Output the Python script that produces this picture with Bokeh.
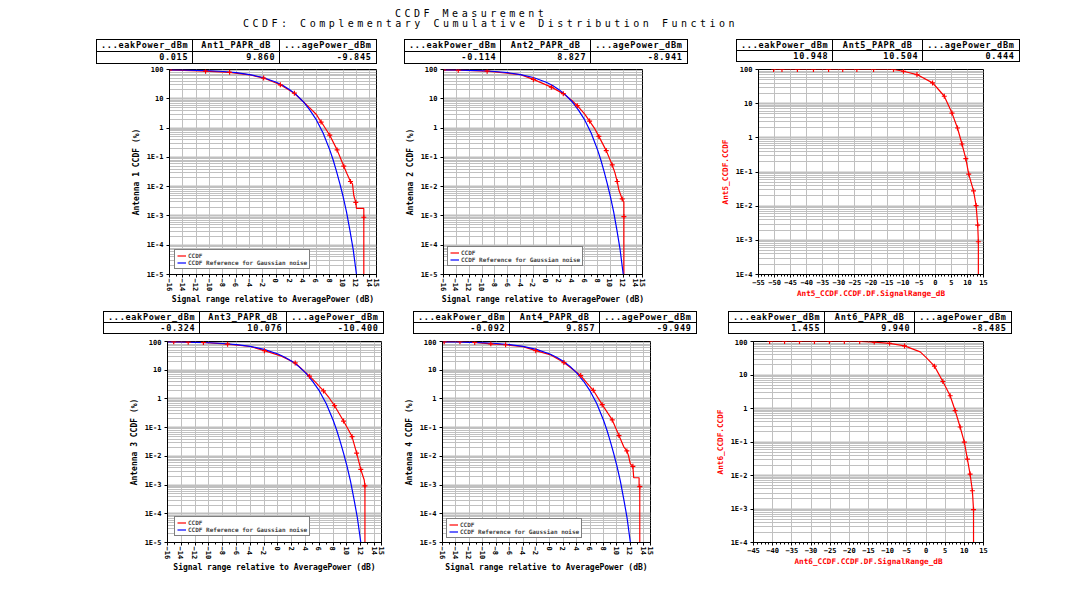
import math
from bokeh.plotting import figure
from bokeh.models import FixedTicker, Legend, LegendItem, Div, Spacer, Range1d
from bokeh.layouts import column, row
from bokeh.embed import file_html
from bokeh.resources import INLINE

# ---------------- data ----------------
title_1 = "CCDF Measurement"
title_2 = "CCDF: Complementary Cumulative Distribution Function"

table_headers = [
    ["...eakPower_dBm", "Ant1_PAPR_dB", "...agePower_dBm"],
    ["...eakPower_dBm", "Ant2_PAPR_dB", "...agePower_dBm"],
    ["...eakPower_dBm", "Ant5_PAPR_dB", "...agePower_dBm"],
    ["...eakPower_dBm", "Ant3_PAPR_dB", "...agePower_dBm"],
    ["...eakPower_dBm", "Ant4_PAPR_dB", "...agePower_dBm"],
    ["...eakPower_dBm", "Ant6_PAPR_dB", "...agePower_dBm"],
]
table_values = [
    ["0.015", "9.860", "-9.845"],
    ["-0.114", "8.827", "-8.941"],
    ["10.948", "10.504", "0.444"],
    ["-0.324", "10.076", "-10.400"],
    ["-0.092", "9.857", "-9.949"],
    ["1.455", "9.940", "-8.485"],
]

# Gaussian reference curve (same in the four antenna plots)
ref_db = [-16, -14, -12, -10, -8, -6, -4, -2, 0, 1, 2, 3, 4, 5, 6, 7, 8, 8.5, 9, 9.5, 10, 10.5, 11, 11.5, 12.0]
ref_pct = [97.5, 96.1, 93.9, 90.5, 85.3, 77.8, 67.2, 53.3, 36.8, 28.4, 20.5, 13.6, 8.1, 4.2, 1.9, 0.68, 0.18,
           0.083, 0.034, 0.013, 0.0046, 0.0014, 0.00034, 0.000074, 0.00001]

ant1_db = [-16, -10.6, -7.0, -4.0, -1.9, 0.6, 2.7, 4.0, 5.0, 6.0, 6.7, 7.0, 8.0, 9.1, 10.1, 10.6, 11.1, 11.4,
           11.6, 11.9, 12.0, 12.2, 13.1, 13.1, 13.1]
ant1_pct = [97.0, 88.0, 80.0, 66.0, 51.0, 30.0, 15.5, 8.1, 4.9, 2.9, 1.6, 1.3, 0.57, 0.18, 0.05, 0.027, 0.015,
            0.0125, 0.005, 0.0029, 0.0018, 0.0018, 0.0018, 0.0009, 0.00001]
ant1_mk = [0, 1, 2, 4, 5, 6, 10, 12, 13, 14, 16, 19, 23]

ant2_db = [-16, -13.7, -9.2, -4.0, -2.0, 0.8, 2.66, 4.0, 4.84, 6.0, 6.76, 7.5, 8.2, 9.35, 10.28, 10.7, 11.06,
           11.3, 11.7, 11.84, 12.1, 12.1, 12.1]
ant2_pct = [97.5, 94.5, 88.0, 67.0, 46.0, 25.0, 15.0, 8.8, 5.8, 3.0, 1.73, 1.0, 0.52, 0.17, 0.055, 0.03, 0.015,
            0.008, 0.0045, 0.0038, 0.003, 0.00095, 0.00001]
ant2_mk = [0, 1, 2, 4, 5, 6, 8, 10, 12, 13, 14, 16, 19, 21]

ant3_db = [-16, -15.1, -13.0, -10.8, -7.3, -4.0, -1.96, 0.5, 2.5, 4.58, 5.5, 6.6, 7.4, 8.2, 9.5, 10.2, 10.73,
           11.4, 12.0, 12.5, 12.6, 12.6]
ant3_pct = [98.0, 99.0, 95.0, 92.4, 81.0, 67.0, 48.0, 31.0, 17.9, 6.2, 3.7, 1.9, 1.1, 0.58, 0.17, 0.085, 0.049,
            0.013, 0.0035, 0.0015, 0.00094, 0.00001]
ant3_mk = [1, 2, 3, 4, 6, 8, 9, 11, 13, 14, 16, 17, 18, 20]

ant4_db = [-16, -15.75, -13.4, -11.2, -8.8, -6.6, -4.0, -2.1, 0.0, 2.1, 4.6, 5.5, 6.47, 7.8, 9.3, 10.3, 11.0,
           11.48, 11.7, 12.0, 12.37, 12.5, 13.3, 13.3, 13.4, 13.4]
ant4_pct = [98.5, 99.0, 98.0, 92.5, 83.0, 77.0, 66.0, 48.0, 35.0, 18.5, 6.5, 3.6, 2.0, 0.63, 0.186, 0.053, 0.022,
            0.0154, 0.011, 0.0055, 0.0045, 0.0018, 0.0018, 0.00088, 0.00088, 0.00001]
ant4_mk = [1, 2, 3, 4, 5, 7, 9, 10, 12, 13, 14, 15, 17, 20, 24]

ant5_db = [-50.3, -47.7, -42.9, -37.9, -33.2, -28.8, -24.4, -19.2, -13.0, -9.9, -5.7, -0.85, 1.0, 2.8, 5.2, 6.9,
           8.3, 9.5, 10.4, 11.9, 12.7, 13.2, 13.4, 13.4]
ant5_pct = [100, 100, 100, 100, 100, 100, 100, 100, 100, 89.0, 71.0, 40.6, 26.0, 16.5, 5.3, 1.94, 0.66, 0.245,
            0.087, 0.028, 0.0104, 0.0028, 0.00091, 0.0001]
ant5_mk = [0, 1, 2, 3, 4, 5, 6, 7, 8, 9, 10, 11, 13, 14, 15, 16, 17, 18, 19, 20, 21, 22]

ant6_db = [-40.8, -36.9, -33.0, -29.1, -25.2, -21.3, -17.3, -13.5, -9.5, -5.6, -1.5, 0.2, 2.2, 4.4, 6.3, 7.6,
           8.9, 10.0, 10.8, 11.5, 12.1, 12.4, 12.4]
ant6_pct = [100, 100, 100, 100, 100, 100, 100, 96.0, 88.0, 74.0, 49.0, 32.0, 18.4, 6.4, 2.4, 0.87, 0.28, 0.099,
            0.031, 0.011, 0.0035, 0.00096, 0.0001]
ant6_mk = [0, 1, 2, 3, 4, 5, 6, 7, 8, 9, 12, 13, 14, 15, 16, 17, 18, 19, 20, 21]

left_xticks = [-16, -14, -12, -10, -8, -6, -4, -2, 0, 2, 4, 6, 8, 10, 12, 14, 15]
y5_ticks = [1e-5, 1e-4, 1e-3, 1e-2, 1e-1, 1, 10, 100]
y5_labels = ["1E-5", "1E-4", "1E-3", "1E-2", "1E-1", "1", "10", "100"]
y4_ticks = [1e-4, 1e-3, 1e-2, 1e-1, 1, 10, 100]
y4_labels = ["1E-4", "1E-3", "1E-2", "1E-1", "1", "10", "100"]
ant5_xticks = [-55, -50, -45, -40, -35, -30, -25, -20, -15, -10, -5, 0, 5, 10, 15]
ant6_xticks = [-45, -40, -35, -30, -25, -20, -15, -10, -5, 0, 5, 10, 15]

x_label_left = "Signal range relative to AveragePower (dB)"
y_labels_left = ["Antenna 1 CCDF (%)", "Antenna 2 CCDF (%)", "Antenna 3 CCDF (%)", "Antenna 4 CCDF (%)"]
legend_labels = ["CCDF", "CCDF Reference for Gaussian noise"]

MONO = "DejaVu Sans Mono"
GRID = "#c0c0c0"


def base_fig(w, h, bl, br, bt, bb, xr, yr):
    p = figure(width=w, height=h, output_backend="svg", toolbar_location=None,
               x_range=Range1d(*xr), y_range=Range1d(*yr), y_axis_type="log",
               min_border_left=bl, min_border_right=br, min_border_top=bt, min_border_bottom=bb)
    p.outline_line_color = "black"
    p.outline_line_width = 1
    p.background_fill_color = "white"
    p.border_fill_color = "white"
    return p


def style(p, xticks, xminor, yticks, ylabels, ydec, xlabel, ylabel, lab_color, rotate, tfs, lfs):
    p.xaxis.ticker = FixedTicker(ticks=xticks, minor_ticks=xminor)
    yminor = [m * 10.0 ** e for e in ydec for m in range(2, 10)]
    p.yaxis.ticker = FixedTicker(ticks=yticks, minor_ticks=yminor)
    p.yaxis.major_label_overrides = dict(zip(yticks, ylabels))
    for ax in (p.xaxis, p.yaxis):
        ax.axis_line_color = "black"
        ax.major_tick_line_color = "black"
        ax.major_tick_in = 0
        ax.major_tick_out = 3
        ax.minor_tick_in = 0
        ax.major_label_text_font = MONO
        ax.major_label_text_font_size = tfs
        ax.major_label_text_font_style = "bold"
        ax.major_label_text_color = "black"
        ax.major_label_text_line_height = 1.0
        ax.axis_label_text_font = MONO
        ax.axis_label_text_font_size = lfs
        ax.axis_label_text_font_style = "bold"
        ax.axis_label_text_color = lab_color
        ax.axis_label_text_line_height = 1.0
    p.xaxis.minor_tick_out = 2
    p.xaxis.minor_tick_line_color = "black"
    p.yaxis.minor_tick_line_color = None
    p.xaxis.major_label_standoff = 1
    p.yaxis.major_label_standoff = 2
    p.xaxis.axis_label_standoff = 1
    p.yaxis.axis_label_standoff = 3
    if rotate:
        p.xaxis.major_label_orientation = -math.pi / 2
    p.xaxis.axis_label = xlabel
    p.yaxis.axis_label = ylabel
    p.xgrid.grid_line_color = GRID
    p.xgrid.grid_line_width = 1
    p.ygrid.grid_line_color = GRID
    p.ygrid.grid_line_width = 2
    p.ygrid.minor_grid_line_color = GRID
    p.ygrid.minor_grid_line_width = 1


def antenna_fig(w, h, bl, br, bt, bb, xs, ys, mk, ylabel, leg_loc):
    p = base_fig(w, h, bl, br, bt, bb, (-16, 15), (1e-5, 100))
    style(p, left_xticks, list(range(-16, 16)), y5_ticks, y5_labels, range(-5, 2),
          x_label_left, ylabel, "black", True, "7px", "8px")
    r_red = p.line(xs, ys, line_color="red", line_width=1.2)
    r_blue = p.line(ref_db, ref_pct, line_color="blue", line_width=1.2)
    p.scatter([xs[i] for i in mk], [ys[i] for i in mk], marker="cross", size=5,
              line_color="red", line_width=1.2)
    leg = Legend(items=[LegendItem(label=legend_labels[0], renderers=[r_red]),
                        LegendItem(label=legend_labels[1], renderers=[r_blue])],
                 location=leg_loc, orientation="vertical")
    leg.label_text_font = MONO
    leg.label_text_font_size = "6px"
    leg.label_text_font_style = "bold"
    leg.label_height = 5
    leg.glyph_height = 5
    leg.glyph_width = 9
    leg.label_standoff = 2
    leg.spacing = 0
    leg.padding = 2
    leg.margin = 0
    leg.border_line_color = "black"
    leg.border_line_width = 1
    leg.background_fill_color = "white"
    leg.background_fill_alpha = 1
    p.add_layout(leg)
    return p


def ant_single_fig(w, h, bl, br, bt, bb, xr, xticks, xs, ys, mk, name):
    p = base_fig(w, h, bl, br, bt, bb, xr, (1e-4, 100))
    style(p, xticks, list(range(xr[0], xr[1] + 1)), y4_ticks, y4_labels, range(-4, 2),
          name + "_CCDF.CCDF.DF.SignalRange_dB", name + "_CCDF.CCDF", "red", False, "7px", "7.7px")
    p.line(xs, ys, line_color="red", line_width=1.2)
    p.scatter([xs[i] for i in mk], [ys[i] for i in mk], marker="cross", size=5,
              line_color="red", line_width=1.2)
    return p


def table_div(headers, values, colw, rowh, top, width, height):
    cell = ("border:1px solid black;padding:0 4px;height:%dpx;line-height:%dpx;"
            "overflow:hidden;white-space:nowrap;" % (rowh - 1, rowh - 1))
    html = ('<div style="padding-top:%dpx;margin:0"><table style="border-collapse:collapse;'
            'table-layout:fixed;font-family:\'DejaVu Sans Mono\';font-size:8.5px;font-weight:bold;'
            'letter-spacing:0.7px;color:black;">' % top)
    html += "<tr>" + "".join('<td style="%swidth:%dpx;text-align:center">%s</td>' % (cell, w - 9, t)
                             for w, t in zip(colw, headers)) + "</tr>"
    html += "<tr>" + "".join('<td style="%swidth:%dpx;text-align:right">%s</td>' % (cell, w - 9, t)
                             for w, t in zip(colw, values)) + "</tr>"
    html += "</table></div>"
    return Div(text=html, width=width, height=height, margin=0)


title_html = ('<div style="font-family:\'DejaVu Sans Mono\';font-size:10px;letter-spacing:3.5px;'
              'line-height:10px;white-space:pre;color:black;margin:0">'
              '<div style="padding-left:387px;padding-top:1px">%s</div>'
              '<div style="padding-left:235px">%s</div></div>' % (title_1, title_2))
title_div = Div(text=title_html, width=1050, height=28, margin=0)

t1 = table_div(table_headers[0], table_values[0], [96, 96, 96], 12, 3, 300, 28)
t2 = table_div(table_headers[1], table_values[1], [99, 99, 99], 12, 3, 310, 28)
t3 = table_div(table_headers[2], table_values[2], [100, 99, 100], 11, 3, 310, 28)
t4 = table_div(table_headers[3], table_values[3], [95, 96, 92], 11, 0, 290, 27)
t5 = table_div(table_headers[4], table_values[4], [100, 99, 100], 11, 0, 300, 27)
t6 = table_div(table_headers[5], table_values[5], [100, 99, 99], 11, 0, 310, 27)

row_tables_top = row(Spacer(width=88, height=28), t1, Spacer(width=8, height=28), t2,
                     Spacer(width=22, height=28), t3, spacing=0)
row_tables_bot = row(Spacer(width=95, height=27), t4, Spacer(width=20, height=27), t5,
                     Spacer(width=15, height=27), t6, spacing=0)

f1 = antenna_fig(392, 247, 161, 24, 4, 34, ant1_db, ant1_pct, ant1_mk, y_labels_left[0], (5, 5))
f2 = antenna_fig(300, 247, 43, 58, 3, 35, ant2_db, ant2_pct, ant2_mk, y_labels_left[1], (4, 8))
f3 = ant_single_fig(350, 247, 58, 67, 5, 37, (-55, 15), ant5_xticks, ant5_db, ant5_pct, ant5_mk, "Ant5")
f4 = antenna_fig(392, 242, 159, 19, 1, 38, ant3_db, ant3_pct, ant3_mk, y_labels_left[2], (7, 6))
f5 = antenna_fig(300, 242, 42, 50, 1, 35, ant4_db, ant4_pct, ant4_mk, y_labels_left[3], (4, 4))
f6 = ant_single_fig(350, 242, 53, 67, 3, 35, (-45, 15), ant6_xticks, ant6_db, ant6_pct, ant6_mk, "Ant6")

inner = column(title_div, row_tables_top, row(f1, f2, f3, spacing=0), row_tables_bot,
               row(f4, f5, f6, spacing=0), spacing=0)
page = column(Spacer(width=1058, height=8), row(Spacer(width=8, height=580), inner, spacing=0), spacing=0)

open("out.html", "w").write(file_html(page, INLINE))
